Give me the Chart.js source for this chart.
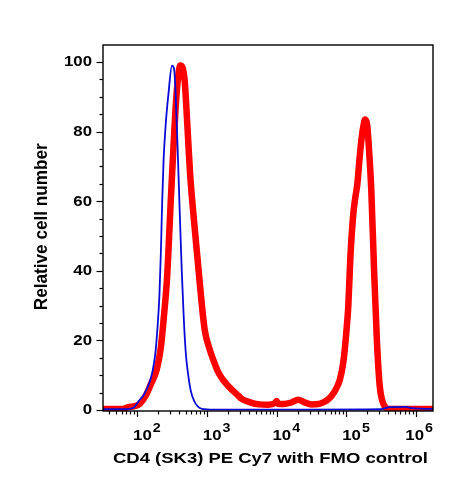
<!DOCTYPE html>
<html>
<head>
<meta charset="utf-8">
<script src="https://cdn.jsdelivr.net/npm/chart.js@4.4.1/dist/chart.umd.min.js"></script>
<style>
  html, body { margin: 0; padding: 0; background: #fff; }
  #histChart { display: block; }
</style>
</head>
<body>
<canvas id="histChart" width="454" height="483"></canvas>
<script>
// FMO control (blue) - fluorescence intensity vs relative count
const fmoIntensity = [32, 79, 91, 105, 126, 148, 166, 182, 195, 209, 219, 229, 240, 257, 282, 316, 339, 355, 380, 407, 437, 468, 501, 537, 589, 661, 741, 851, 1259, 31620, 316200, 416900, 707900, 891300, 1758000];
const fmoCount = [0.2, 0.3, 0.8, 2.5, 4.5, 7.5, 11, 16, 23, 33, 45, 60, 72, 82, 91, 99, 98, 92, 76, 58, 40, 26, 16, 10.5, 5.5, 2.5, 1.0, 0.3, 0.1, 0.1, 0.2, 0.8, 0.9, 0.5, 0.3];

// CD4 (SK3) PE Cy7 stained (red)
const cd4Intensity = [32, 63, 74, 89, 110, 132, 158, 191, 219, 240, 269, 288, 302, 331, 372, 417, 479, 525, 575, 631, 724, 832, 933, 1096, 1259, 1445, 1660, 1905, 2239, 2692, 3162, 4169, 5623, 7586, 9550, 10000, 10470, 12590, 16600, 20420, 25120, 31620, 39810, 46770, 56230, 67610, 81280, 91200, 100000, 107200, 114800, 125900, 134900, 144500, 154900, 166000, 177800, 186200, 199500, 213800, 229100, 251200, 275400, 302000, 331100, 363100, 416900, 1758000];
const cd4Count = [0.3, 0.3, 0.8, 1.0, 1.8, 4.0, 7.5, 11.6, 18, 26, 38, 50, 59, 75, 92, 99, 95, 82, 68, 58, 45, 32, 23, 17.5, 14, 11, 9, 7.5, 6, 4.5, 3.2, 2.2, 1.6, 1.5, 2.0, 2.6, 1.8, 1.7, 2.2, 2.9, 2.2, 1.6, 1.7, 2.2, 3.2, 5.2, 8.8, 14, 22, 30, 44, 56, 61, 65, 72, 78, 82, 83.5, 82, 74, 63, 40, 20, 7, 2.5, 0.8, 0.3, 0.3];

const xTickPowers = [2, 3, 4, 5, 6];
const yTickLabels = [0, 20, 40, 60, 80, 100];
const xTitle = 'CD4 (SK3) PE Cy7 with FMO control';
const yTitle = 'Relative cell number';

const FONT = "'Liberation Sans', Arial, Helvetica, sans-serif";

function toPoints(xs, ys) {
  return xs.map((x, i) => ({ x: x, y: ys[i] }));
}

function drawText(ctx, text, x, y, size, sx, align, baseline) {
  ctx.save();
  ctx.font = 'bold ' + size + 'px ' + FONT;
  ctx.textAlign = align;
  ctx.textBaseline = baseline || 'alphabetic';
  ctx.translate(x, y);
  ctx.scale(sx, 1);
  ctx.fillText(text, 0, 0);
  ctx.restore();
}

// axes, ticks and labels drawn by hand so the look follows the cytometry plot
const axesPlugin = {
  id: 'flowAxes',
  afterDraw(chart) {
    const ctx = chart.ctx;
    const area = chart.chartArea;
    const xs = chart.scales.x;
    const ys = chart.scales.y;

    ctx.save();
    ctx.strokeStyle = '#000';
    ctx.fillStyle = '#000';
    ctx.lineWidth = 1.4;
    ctx.strokeRect(area.left, area.top, area.right - area.left, area.bottom - area.top);

    // y ticks
    ctx.lineWidth = 1.2;
    for (let v = 0; v <= ys.max; v += 5) {
      const py = Math.round(ys.getPixelForValue(v)) + 0.5;
      const len = v % 20 === 0 ? 6.5 : 3.5;
      ctx.beginPath();
      ctx.moveTo(area.left - len, py);
      ctx.lineTo(area.left, py);
      ctx.stroke();
    }
    yTickLabels.forEach(v => {
      drawText(ctx, String(v), area.left - 11, ys.getPixelForValue(v) + 0.5, 14, 1.2, 'right', 'middle');
    });

    // x ticks (log decades)
    for (let k = 1; k <= 6; k++) {
      for (let m = 1; m <= 9; m++) {
        const v = m * Math.pow(10, k);
        if (v < xs.min || v > xs.max) continue;
        const px = Math.round(xs.getPixelForValue(v)) + 0.5;
        const len = m === 1 ? 6 : 3.5;
        ctx.beginPath();
        ctx.moveTo(px, area.bottom);
        ctx.lineTo(px, area.bottom + len);
        ctx.stroke();
      }
    }
    xTickPowers.forEach(p => {
      const px = xs.getPixelForValue(Math.pow(10, p));
      ctx.font = 'bold 14px ' + FONT;
      const baseW = ctx.measureText('10').width * 1.2;
      ctx.font = 'bold 13px ' + FONT;
      const expW = ctx.measureText(String(p)).width * 1.1;
      let x0 = px - 4;
      const total = baseW + 1 + expW;
      if (x0 + total > area.right) x0 = area.right - total;
      drawText(ctx, '10', x0, 440, 14, 1.2, 'left');
      drawText(ctx, String(p), x0 + baseW + 1, 432, 13, 1.1, 'left');
    });

    // axis titles
    ctx.font = 'bold 15px ' + FONT;
    const xw = ctx.measureText(xTitle).width;
    drawText(ctx, xTitle, 270.5, 462.5, 15, 315 / xw, 'center');

    const yw = ctx.measureText(yTitle).width;
    ctx.save();
    ctx.translate(46.5, 226.7);
    ctx.rotate(-Math.PI / 2);
    ctx.scale(167 / yw, 1.2);
    ctx.font = 'bold 15px ' + FONT;
    ctx.textAlign = 'center';
    ctx.textBaseline = 'alphabetic';
    ctx.fillText(yTitle, 0, 0);
    ctx.restore();

    ctx.restore();
  }
};

new Chart(document.getElementById('histChart'), {
  type: 'line',
  data: {
    datasets: [
      {
        label: 'FMO control',
        data: toPoints(fmoIntensity, fmoCount),
        borderColor: '#0a0ad6',
        borderWidth: 1.8,
        pointRadius: 0,
        fill: false,
        cubicInterpolationMode: 'monotone',
        borderJoinStyle: 'round',
        borderCapStyle: 'round',
        clip: 0,
        order: 0
      },
      {
        label: 'CD4 (SK3) PE Cy7',
        data: toPoints(cd4Intensity, cd4Count),
        borderColor: '#ff0000',
        borderWidth: 6.5,
        pointRadius: 0,
        fill: false,
        cubicInterpolationMode: 'monotone',
        borderJoinStyle: 'round',
        borderCapStyle: 'round',
        clip: 0,
        order: 1
      }
    ]
  },
  options: {
    responsive: false,
    devicePixelRatio: 1,
    animation: false,
    layout: { padding: { left: 103, right: 21, top: 45, bottom: 72 } },
    plugins: {
      legend: { display: false },
      tooltip: { enabled: false }
    },
    scales: {
      x: {
        type: 'logarithmic',
        min: 32.4,
        max: 1758000,
        grid: { display: false },
        border: { display: false },
        ticks: { display: false },
        afterFit(scale) { scale.height = 0; }
      },
      y: {
        type: 'linear',
        min: -0.3,
        max: 104.9,
        grid: { display: false },
        border: { display: false },
        ticks: { display: false },
        afterFit(scale) { scale.width = 0; }
      }
    }
  },
  plugins: [axesPlugin]
});
</script>
</body>
</html>
